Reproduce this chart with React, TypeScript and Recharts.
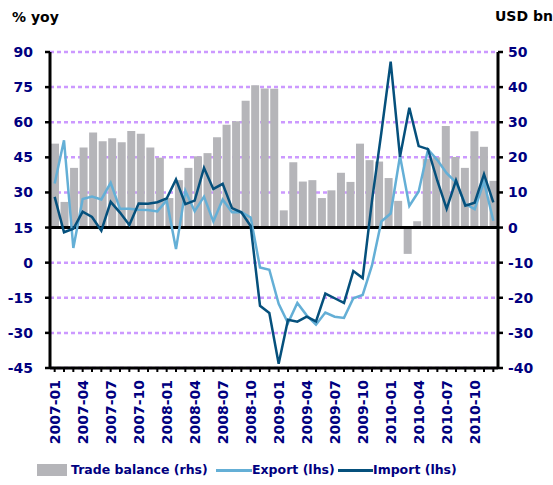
import React from 'react';
import { ComposedChart, Bar, Line, XAxis, YAxis, CartesianGrid, ReferenceLine } from 'recharts';

const years = ['2007', '2008', '2009', '2010'];
const monthNums = ['01', '02', '03', '04', '05', '06', '07', '08', '09', '10', '11', '12'];
const months = years.flatMap((y) => monthNums.map((m) => `${y}-${m}`));

// % yoy, Jan 2007 - Dec 2010
const exportYoy = [
  33.8, 52.3, 6.3, 27.2, 28.2, 27.0, 34.1, 23.0, 23.0, 22.6, 22.5, 21.9,
  26.6, 5.8, 30.7, 22.0, 28.2, 17.6, 27.0, 21.5, 21.6, 19.3, -2.1, -3.0,
  -17.6, -25.8, -17.2, -22.5, -26.5, -21.3, -23.1, -23.6, -15.2, -13.8, -1.2, 17.6,
  21.0, 45.6, 24.2, 30.4, 48.4, 43.8, 38.2, 34.3, 25.1, 22.9, 34.6, 17.9,
];
const importYoy = [
  28.1, 13.0, 14.5, 21.8, 19.5, 13.7, 26.0, 21.4, 16.1, 25.3, 25.2, 25.8,
  27.4, 35.6, 25.0, 26.5, 40.5, 31.5, 33.7, 23.3, 21.5, 15.7, -18.4, -21.5,
  -43.2, -24.4, -25.2, -23.1, -25.1, -13.2, -15.2, -17.2, -3.6, -6.6, 26.5, 55.5,
  85.9, 45.2, 66.2, 49.8, 48.5, 35.0, 23.0, 35.2, 24.3, 25.6, 37.8, 25.8,
];
// USD bn, 47 bars on their own (hidden) axis, as in the original sheet
const tradeBalance = [
  23.9, 7.3, 17.0, 22.8, 27.1, 24.6, 25.4, 24.3, 27.5, 26.7, 22.8,
  19.9, 8.4, 13.5, 17.0, 20.3, 21.2, 25.7, 29.3, 30.3, 36.1, 40.5, 39.6,
  39.5, 4.9, 18.6, 13.1, 13.5, 8.4, 10.6, 15.6, 13.0, 23.9, 19.2, 18.8,
  14.1, 7.6, -7.5, 1.8, 19.5, 20.0, 28.9, 20.1, 17.0, 27.4, 23.0, 13.3,
];

const leftTicks = [-45, -30, -15, 0, 15, 30, 45, 60, 75, 90];
const rightTicks = [-40, -30, -20, -10, 0, 10, 20, 30, 40, 50];

const data = months.map((month, i) => ({
  month,
  exp: exportYoy[i],
  imp: importYoy[i],
  slot: i < tradeBalance.length ? i : null,
  trade: i < tradeBalance.length ? tradeBalance[i] : null,
}));

const NAVY = '#000080';
const FONT = '"DejaVu Sans", Verdana, sans-serif';
const EXPORT_COLOR = '#64afd6';
const IMPORT_COLOR = '#05507c';
const BAR_COLOR = '#b5b5b9';

const axisTick = { fill: NAVY, fontSize: 14, fontWeight: 'bold', fontFamily: FONT };

// only every third month gets a label, all months get a tick mark
const MonthTick = (props: any) => {
  const { x, y, payload } = props;
  const idx = months.indexOf(payload.value);
  if (idx % 3 !== 0) return <g />;
  return (
    <text
      x={x}
      y={y}
      transform={`rotate(-90 ${x} ${y})`}
      textAnchor="end"
      dominantBaseline="central"
      fill={NAVY}
      fontSize={14}
      fontWeight="bold"
      fontFamily={FONT}
    >
      {payload.value}
    </text>
  );
};

const legendText: React.CSSProperties = {
  position: 'absolute',
  top: 462,
  color: NAVY,
  fontSize: 12.5,
  fontWeight: 'bold',
  fontFamily: FONT,
  whiteSpace: 'nowrap',
};

export default function App() {
  return (
    <div style={{ position: 'absolute', left: 0, top: 0, width: 553, height: 485, background: '#fff' }}>
      <div style={{ position: 'absolute', left: 12, top: 9, fontSize: 14, fontWeight: 'bold', fontFamily: FONT }}>% yoy</div>
      <div style={{ position: 'absolute', left: 495, top: 8, fontSize: 14, fontWeight: 'bold', fontFamily: FONT }}>USD bn</div>

      <ComposedChart width={553} height={485} data={data} margin={{ top: 52, right: 10, bottom: 57, left: 10 }}>
        <CartesianGrid
          xAxisId="line"
          yAxisId="left"
          vertical={false}
          stroke="#cc99ff"
          strokeWidth={2.5}
          strokeDasharray="4 3"
        />
        <XAxis
          xAxisId="line"
          dataKey="month"
          scale="band"
          interval={0}
          height={60}
          tick={<MonthTick />}
          tickSize={4}
          tickMargin={8}
          axisLine={{ stroke: '#000', strokeWidth: 3 }}
          tickLine={{ stroke: '#000', strokeWidth: 2 }}
        />
        <XAxis
          xAxisId="bar"
          orientation="top"
          height={0}
          dataKey="slot"
          type="number"
          domain={[-0.5, 46.5]}
          hide
          allowDataOverflow
        />
        <YAxis
          yAxisId="left"
          width={40}
          domain={[-45, 90]}
          ticks={leftTicks}
          interval={0}
          tick={axisTick}
          tickSize={5}
          tickMargin={12}
          axisLine={{ stroke: '#000', strokeWidth: 3 }}
          tickLine={{ stroke: '#000', strokeWidth: 2.5 }}
        />
        <YAxis
          yAxisId="right"
          orientation="right"
          width={45}
          domain={[-40, 50]}
          ticks={rightTicks}
          interval={0}
          tick={{ ...axisTick, textAnchor: 'start' }}
          tickSize={5}
          tickMargin={5}
          axisLine={{ stroke: '#000', strokeWidth: 3 }}
          tickLine={{ stroke: '#000', strokeWidth: 2.5 }}
        />
        <Bar
          xAxisId="bar"
          yAxisId="right"
          dataKey="trade"
          name="Trade balance (rhs)"
          fill={BAR_COLOR}
          barSize={8}
          isAnimationActive={false}
        />
        <ReferenceLine xAxisId="line" yAxisId="left" y={15} stroke="#000" strokeWidth={3} />
        <Line
          xAxisId="line"
          yAxisId="left"
          type="linear"
          dataKey="exp"
          name="Export (lhs)"
          stroke={EXPORT_COLOR}
          strokeWidth={2.5}
          dot={false}
          isAnimationActive={false}
        />
        <Line
          xAxisId="line"
          yAxisId="left"
          type="linear"
          dataKey="imp"
          name="Import (lhs)"
          stroke={IMPORT_COLOR}
          strokeWidth={2.5}
          dot={false}
          isAnimationActive={false}
        />
      </ComposedChart>

      <div style={{ position: 'absolute', left: 37, top: 464, width: 30, height: 12, background: BAR_COLOR }} />
      <div style={{ ...legendText, left: 71 }}>Trade balance (rhs)</div>
      <div style={{ position: 'absolute', left: 216, top: 469, width: 36, height: 3, background: EXPORT_COLOR }} />
      <div style={{ ...legendText, left: 252 }}>Export (lhs)</div>
      <div style={{ position: 'absolute', left: 338, top: 469, width: 35, height: 3, background: IMPORT_COLOR }} />
      <div style={{ ...legendText, left: 373 }}>Import (lhs)</div>
    </div>
  );
}
